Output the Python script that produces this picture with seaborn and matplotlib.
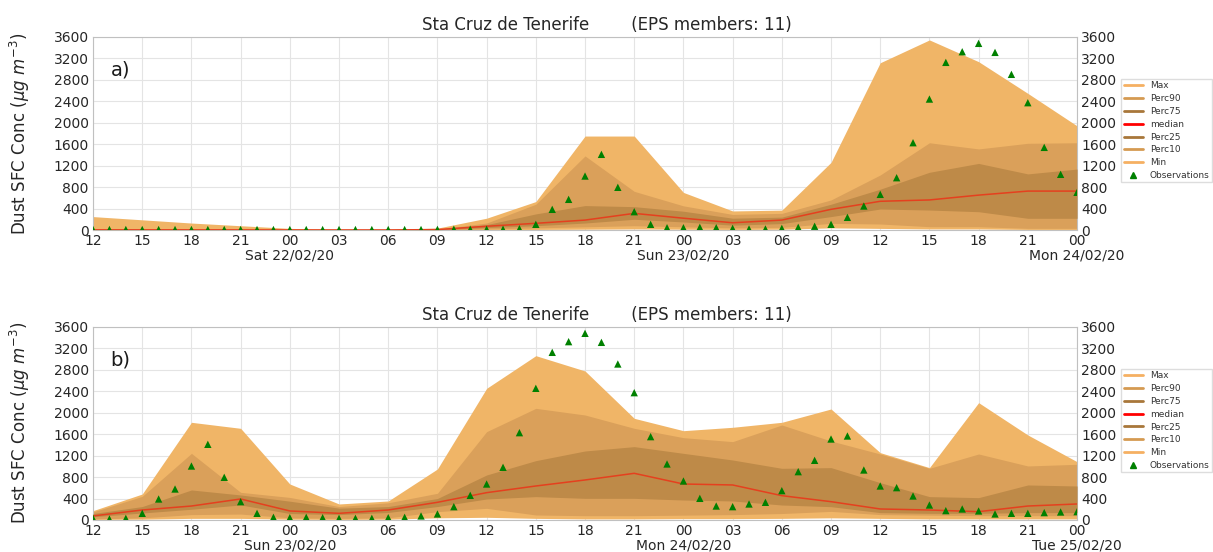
import numpy as np
import matplotlib
matplotlib.use("Agg")
import matplotlib.pyplot as plt
import seaborn as sns
from matplotlib.lines import Line2D

# ---------------- data ----------------
hour_labels = ["12", "15", "18", "21", "00", "03", "06", "09", "12", "15", "18", "21",
               "00", "03", "06", "09", "12", "15", "18", "21", "00"]
day_labels_a = ["Sat 22/02/20", "Sun 23/02/20", "Mon 24/02/20"]
day_labels_b = ["Sun 23/02/20", "Mon 24/02/20", "Tue 25/02/20"]

# panel a) 3-hourly ensemble statistics
max_a = [250, 190, 130, 80, 30, 15, 15, 35, 220, 530, 1750, 1750, 700, 355, 370, 1260, 3115, 3540, 3135, 2545, 1940]
p90_a = [10, 10, 8, 5, 3, 3, 3, 15, 130, 480, 1380, 720, 450, 290, 310, 560, 1025, 1625, 1510, 1615, 1625]
p75_a = [5, 5, 5, 3, 2, 2, 2, 10, 100, 300, 455, 435, 350, 220, 240, 480, 760, 1075, 1240, 1045, 1135]
med_a = [3, 3, 3, 2, 1, 1, 1, 8, 70, 125, 185, 310, 220, 135, 185, 385, 535, 560, 650, 725, 725]
p25_a = [2, 2, 2, 1, 1, 1, 1, 5, 45, 80, 130, 200, 150, 90, 120, 250, 391, 372, 341, 218, 218]
p10_a = [1, 1, 1, 0, 0, 0, 0, 2, 20, 40, 60, 80, 60, 40, 50, 124, 112, 62, 62, 31, 31]
min_a = [0, 0, 0, 0, 0, 0, 0, 0, 5, 10, 15, 20, 15, 10, 15, 40, 30, 20, 20, 10, 10]
# panel a) hourly observations
obs_a = [10, 10, 10, 10, 10, 10, 10, 10, 10, 10, 10, 10, 10, 10, 10, 10, 10, 10, 10, 10,
         10, 12, 15, 15, 15, 15, 25, 106, 385, 571, 1005, 1409, 795, 341, 106, 43, 43, 50, 43, 31,
         20, 20, 31, 50, 70, 106, 236, 447, 664, 974, 1626, 2439, 3122, 3320, 3476, 3308, 2899, 2371, 1539, 1037,
         702]

# panel b) 3-hourly ensemble statistics
max_b = [174, 484, 1819, 1707, 670, 298, 354, 950, 2452, 3060, 2775, 1893, 1663, 1726, 1819, 2067, 1254, 975, 2185, 1583, 1086]
p90_b = [150, 440, 1241, 515, 420, 250, 320, 497, 1645, 2079, 1955, 1707, 1533, 1459, 1769, 1471, 1229, 962, 1229, 1006, 1037]
p75_b = [120, 250, 559, 466, 350, 220, 250, 400, 838, 1105, 1285, 1366, 1241, 1117, 962, 975, 695, 435, 416, 652, 633]
med_b = [75, 186, 260, 391, 168, 124, 186, 329, 509, 633, 745, 869, 670, 652, 453, 341, 205, 186, 155, 260, 298]
p25_b = [60, 130, 200, 280, 120, 100, 140, 250, 391, 435, 403, 403, 372, 354, 279, 248, 137, 124, 124, 137, 137]
p10_b = [20, 40, 100, 110, 40, 30, 40, 155, 217, 93, 80, 80, 90, 100, 120, 160, 100, 90, 80, 80, 80]
min_b = [10, 15, 30, 30, 15, 10, 15, 40, 50, 30, 20, 20, 25, 25, 30, 40, 30, 20, 20, 20, 20]
# panel b) hourly observations
obs_b = [31, 19, 31, 124, 391, 577, 1005, 1409, 795, 341, 124, 50, 43, 50, 43, 31, 31, 31, 43, 50,
         75, 112, 248, 459, 670, 981, 1626, 2452, 3122, 3321, 3476, 3308, 2905, 2371, 1552, 1043, 726, 403, 260, 248,
         298, 329, 546, 900, 1111, 1508, 1564, 931, 633, 602, 447, 279, 174, 205, 168, 112, 124, 124, 137, 149,
         155]

# ---------------- style ----------------
sns.set_style("whitegrid", {"grid.color": "#e4e4e4", "axes.edgecolor": "#c0c0c0",
                            "xtick.bottom": False, "ytick.left": False})
plt.rcParams['font.family'] = ['DejaVu Sans']

LIGHT = "#F0B567"
MED = "#DAA05A"
DARK = "#BE8A48"
RED_LINE = "#E5401E"

fig = plt.figure(figsize=(12.13, 5.52), dpi=100)
ax_a = fig.add_axes([0.0767, 0.5833, 0.8112, 0.3502])
ax_b = fig.add_axes([0.0767, 0.0580, 0.8112, 0.3502])


def draw(ax, mx, p90, p75, med, p25, p10, mn, obs, day_labels, tag):
    t = np.arange(0, 61, 3)
    h = np.arange(0, 61)
    ax.fill_between(t, mn, mx, color=LIGHT, lw=0, zorder=1)
    ax.fill_between(t, p10, p90, color=MED, lw=0, zorder=2)
    ax.fill_between(t, p25, p75, color=DARK, lw=0, zorder=3)
    sns.lineplot(x=t, y=med, ax=ax, color=RED_LINE, lw=1.1, zorder=4)
    sns.scatterplot(x=h, y=obs, ax=ax, marker="^", color="green", s=28,
                    edgecolor="none", zorder=5)
    ax.set_xlim(0, 60)
    ax.set_ylim(0, 3600)
    ax.set_xticks(t)
    ax.set_xticklabels(hour_labels)
    ax.xaxis.remove_overlapping_locs = False
    ax.set_xticks([12, 36, 60], minor=True)
    ax.set_xticklabels(day_labels, minor=True)
    ax.set_yticks(np.arange(0, 3601, 400))
    ax.tick_params(axis="both", which="major", labelsize=10, length=0, colors="0.15", pad=3)
    ax.tick_params(axis="x", which="minor", labelsize=10, length=0, colors="0.15", pad=13.5)
    ax.tick_params(axis="y", labelright=True)
    ax.grid(False, which="minor")
    ax.set_ylabel(r"Dust SFC Conc ($\mu g\ m^{-3}$)", fontsize=12, color="0.15")
    ax.yaxis.set_label_coords(-0.062, 0.5)
    ax.set_title("Sta Cruz de Tenerife        (EPS members: 11)", fontsize=12,
                 x=0.522, pad=5, color="0.15")
    ax.text(0.018, 0.83, tag, transform=ax.transAxes, fontsize=14, va="center",
            ha="left", color="0.1")
    handles = [
        Line2D([], [], color="#F5B062", lw=2, label="Max"),
        Line2D([], [], color="#D59A52", lw=2, label="Perc90"),
        Line2D([], [], color="#A8773A", lw=2, label="Perc75"),
        Line2D([], [], color="red", lw=2, label="median"),
        Line2D([], [], color="#A8773A", lw=2, label="Perc25"),
        Line2D([], [], color="#D59A52", lw=2, label="Perc10"),
        Line2D([], [], color="#F5B062", lw=2, label="Min"),
        Line2D([], [], color="green", marker="^", lw=0, markersize=5, label="Observations"),
    ]
    leg = ax.legend(handles=handles, loc="upper left", bbox_to_anchor=(1.045, 0.78),
                    borderaxespad=0, fontsize=6.5, labelspacing=0.42, handlelength=2.2,
                    handletextpad=0.7, borderpad=0.25,
                    frameon=True, framealpha=1, edgecolor="#dddddd", fancybox=False)
    for txt in leg.get_texts():
        txt.set_color("0.2")


draw(ax_a, max_a, p90_a, p75_a, med_a, p25_a, p10_a, min_a, obs_a, day_labels_a, "a)")
draw(ax_b, max_b, p90_b, p75_b, med_b, p25_b, p10_b, min_b, obs_b, day_labels_b, "b)")

fig.savefig("out.png", dpi=100)
